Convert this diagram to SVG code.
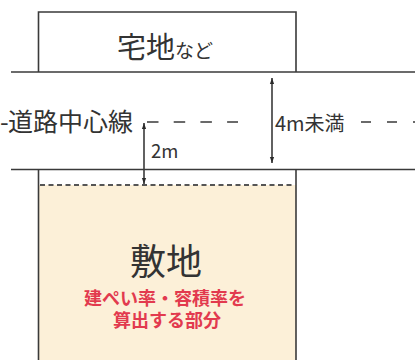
<svg xmlns="http://www.w3.org/2000/svg" width="415" height="360" viewBox="0 0 415 360">
  <style>
    .ln { stroke: #3a3a3a; stroke-width: 1.6; fill: none; }
    .txt { font-family: "Noto Sans CJK JP", "Noto Sans", sans-serif; fill: #333; }
    .red { font-family: "Noto Sans CJK JP", "Noto Sans", sans-serif; fill: #e23a4e; font-weight: bold; font-size: 18px; text-anchor: middle; }
    .dash { stroke: #3a3a3a; stroke-width: 1.6; fill: none; }
  </style>
  <defs>
    <marker id="ah" viewBox="0 0 10 10" refX="10" refY="5" markerWidth="6" markerHeight="10" markerUnits="userSpaceOnUse" orient="auto-start-reverse">
      <path d="M0,1.5 L10,5 L0,8.5 Z" fill="#2a2a2a"/>
    </marker>
  </defs>
  <rect width="415" height="360" fill="#ffffff"/>

  <g id="takuchi">
    <polyline class="ln" points="38.5,72 38.5,12 296,12 296,72"/>
    <text class="txt" x="117" y="58" font-size="29">宅地<tspan font-size="19">など</tspan></text>
  </g>

  <g id="road">
    <line class="ln" x1="11" y1="72" x2="415" y2="72"/>
    <line class="ln" x1="11" y1="169.5" x2="415" y2="169.5"/>
    <text class="txt" x="0" y="131" font-size="25">-<tspan x="8">道路中心線</tspan></text>
    <line class="dash" x1="147" y1="122" x2="238" y2="122" stroke-dasharray="11.5 15.2"/>
    <line class="dash" x1="361" y1="122" x2="415" y2="122" stroke-dasharray="10 16"/>
    <text class="txt" x="275" y="131" font-size="20">4m未満</text>
    <text class="txt" x="151" y="158" font-size="18.5">2m</text>
  </g>

  <g id="shikichi">
    <rect x="38.5" y="185" width="257.5" height="180" fill="#fcf0d8"/>
    <line class="ln" x1="38.5" y1="169.5" x2="38.5" y2="360"/>
    <line class="ln" x1="296" y1="169.5" x2="296" y2="360"/>
    <line x1="40" y1="185" x2="295" y2="185" stroke="#555" stroke-width="1.8" stroke-dasharray="5 3.5"/>
    <text class="txt" x="166" y="275" font-size="36" text-anchor="middle">敷地</text>
    <text class="red" x="165" y="305">建ぺい率・容積率を<tspan x="167" y="327">算出する部分</tspan></text>
  </g>

  <g id="connectors">
    <line class="ln" x1="272" y1="78" x2="272" y2="163" marker-start="url(#ah)" marker-end="url(#ah)"/>
    <line class="ln" x1="144" y1="123" x2="144" y2="184" marker-start="url(#ah)" marker-end="url(#ah)"/>
  </g>
</svg>
